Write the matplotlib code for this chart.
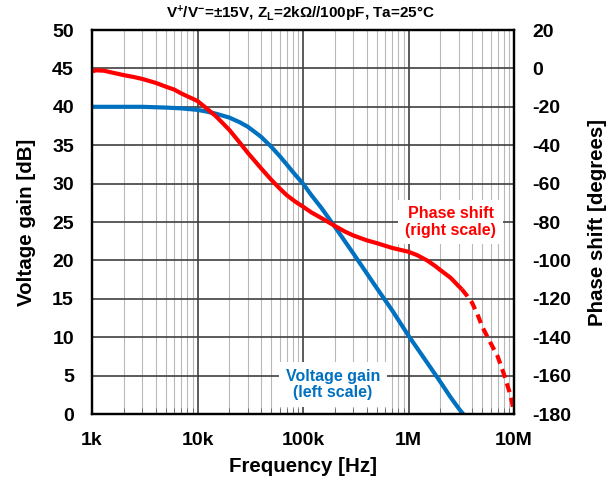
import matplotlib
matplotlib.use('Agg')
import matplotlib.pyplot as plt
import numpy as np

plt.rcParams['font.family'] = ['Liberation Sans', 'DejaVu Sans']
plt.rcParams['font.weight'] = 'bold'
plt.rcParams['axes.unicode_minus'] = False
plt.rcParams['mathtext.fontset'] = 'custom'
plt.rcParams['mathtext.rm'] = 'Liberation Sans:bold'
plt.rcParams['mathtext.bf'] = 'Liberation Sans:bold'
plt.rcParams['mathtext.default'] = 'bf'

# voltage gain (left scale)
gain_freq = [1e3, 2e3, 3e3, 5e3, 7e3, 10e3, 12e3, 15e3, 20e3, 25e3, 30e3, 40e3,
             50e3, 60e3, 70e3, 85e3, 100e3, 120e3, 150e3, 200e3, 300e3, 500e3,
             700e3, 1e6, 1.5e6, 2e6, 2.5e6, 3e6, 3.3e6]
gain_db = [40.0, 40.0, 40.0, 39.9, 39.8, 39.6, 39.4, 39.1, 38.6, 38.0, 37.4, 36.1,
           34.8, 33.6, 32.5, 31.1, 30.0, 28.5, 26.8, 24.4, 20.9, 16.4,
           13.5, 10.2, 6.7, 4.2, 2.2, 0.7, 0.0]

# phase shift (right scale), solid part
phase_freq = [1e3, 1.1e3, 1.3e3, 1.5e3, 2e3, 2.5e3, 3e3, 4e3, 5e3, 6e3, 7e3, 8e3,
              10e3, 12e3, 15e3, 20e3, 25e3, 30e3, 40e3, 50e3, 60e3, 70e3, 85e3,
              100e3, 120e3, 150e3, 200e3, 250e3, 300e3, 400e3, 500e3, 700e3,
              1e6, 1.2e6, 1.5e6, 1.8e6, 2e6, 2.5e6, 3e6, 3.2e6]
phase_deg = [-1.5, -1.0, -1.2, -2.0, -3.5, -4.5, -5.5, -7.5, -9.5, -11, -13, -14.5,
             -17, -20.5, -25, -32, -38.5, -44, -52, -58, -62.5, -66, -69.5,
             -72, -75, -78, -82, -85, -87, -89.5, -91, -93.5,
             -95.5, -97.2, -100, -103, -105, -109, -113.5, -115]
# phase shift, dashed part
phase_freq_d = [3.2e6, 3.6e6, 4e6, 4.5e6, 5e6, 6e6, 7e6, 8e6, 9e6, 9.6e6, 10e6]
phase_deg_d = [-115, -118.5, -122, -128, -134.5, -143, -150, -159, -168, -174, -180]

blue = '#0070C0'
red = '#FF0000'

fig = plt.figure(figsize=(6.16, 4.84), dpi=100)
ax = fig.add_axes([0.1494, 0.1446, 0.685, 0.7934])
ax2 = ax.twinx()

ax.set_xscale('log')
ax.set_xlim(1e3, 1e7)
ax.set_ylim(0, 50)
ax.set_yticks(np.arange(0, 51, 5))
ax2.set_ylim(-180, 20)
ax2.set_yticks(np.arange(-180, 21, 20))

ax.grid(True, which='major', color='#404040', linewidth=1.2)
ax.grid(True, which='minor', axis='x', color='#b8b8b8', linewidth=0.8)
ax.set_axisbelow(True)

ax.set_xticks([1e3, 1e4, 1e5, 1e6, 1e7])
ax.set_xticklabels(['1k', '10k', '100k', '1M', '10M'])
ax.tick_params(axis='both', which='both', direction='in', labelsize=14)
ax.tick_params(axis='x', which='major', length=0, pad=13)
ax.tick_params(axis='x', which='minor', length=4, color='#606060')
ax.tick_params(axis='y', length=0, pad=13)
ax2.tick_params(axis='y', length=0, labelsize=14, pad=13)

for a in (ax, ax2):
    for s in a.spines.values():
        s.set_linewidth(1.6)
        s.set_color('black')

ax2.plot(phase_freq, phase_deg, color=red, linewidth=3, solid_capstyle='butt')
ax2.plot(phase_freq_d, phase_deg_d, color=red, linewidth=3, linestyle=(0, (2.2, 1.4)))
ax.plot(gain_freq, gain_db, color=blue, linewidth=3)

ax.set_xlabel('Frequency [Hz]', fontsize=14.8, fontweight='bold', labelpad=6)
ax.set_ylabel('Voltage gain [dB]', fontsize=14.8, fontweight='bold', labelpad=12)
ax2.set_ylabel('Phase shift [degrees]', fontsize=14.8, fontweight='bold', labelpad=12)

ax.text(1.92e5, 3.8, 'Voltage gain\n(left scale)', color=blue, fontsize=11.5,
        fontweight='bold', ha='center', va='center', linespacing=1.1,
        bbox=dict(facecolor='white', edgecolor='none', pad=5))
ax.text(2.5e6, 25.0, 'Phase shift\n(right scale)', color=red, fontsize=11.5,
        fontweight='bold', ha='center', va='center', linespacing=1.1,
        bbox=dict(facecolor='white', edgecolor='none', pad=5))

fig.text(0.487, 0.972, r'V$^{+}$/V$^{-}$=±15V, Z$_{L}$=2kΩ//100pF, Ta=25°C',
         ha='center', va='center', fontsize=11, fontweight='bold')

fig.savefig('out.png', dpi=100, facecolor='white')
